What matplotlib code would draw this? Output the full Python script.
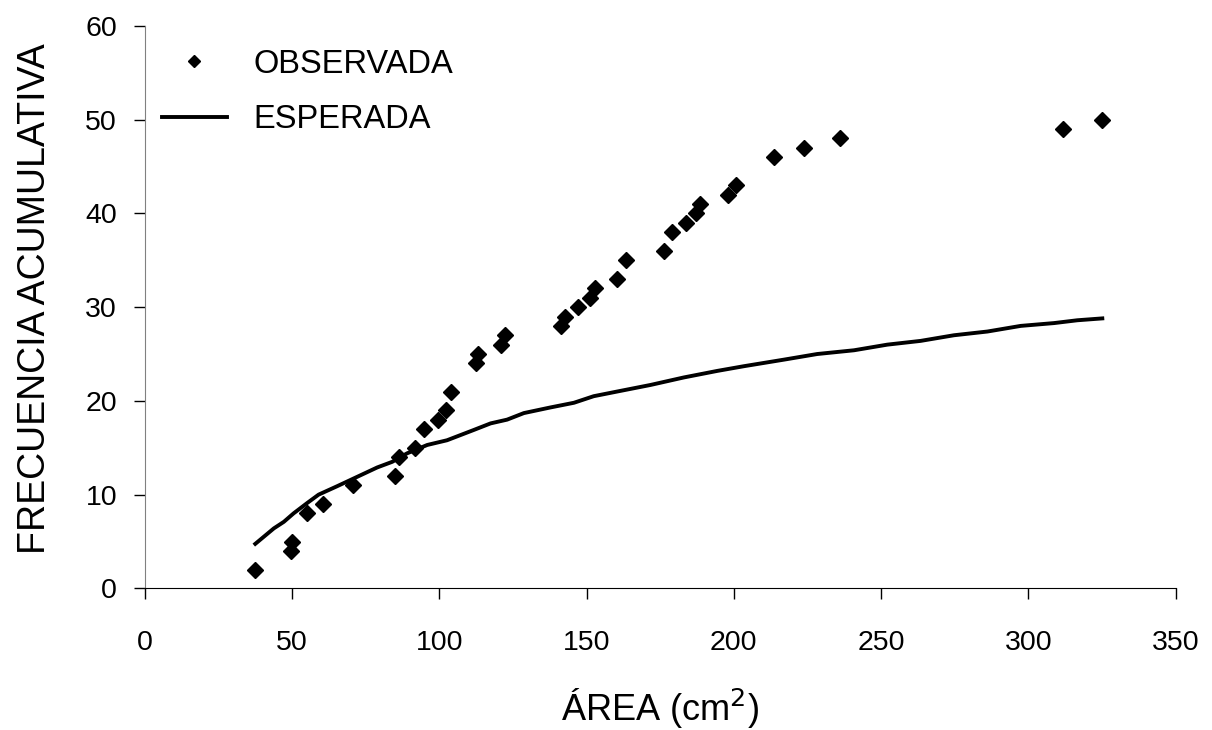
import matplotlib
matplotlib.use("Agg")
import matplotlib.pyplot as plt
from matplotlib.lines import Line2D

plt.rcParams["font.family"] = ["Liberation Sans", "DejaVu Sans"]

# observed cumulative frequency
obs_area = [37.5, 49.7, 50.0, 55.1, 60.5, 70.7, 85.1, 86.4, 91.9, 94.7, 99.5,
            102.3, 104.1, 112.3, 113.2, 121.1, 122.4, 141.4, 142.8, 147.0, 151.1,
            153.0, 160.4, 163.3, 176.3, 178.9, 183.6, 187.2, 188.5, 198.0, 200.6,
            213.6, 223.9, 236.1, 311.6, 325.1]
obs_freq = [2, 4, 5, 8, 9, 11, 12, 14, 15, 17, 18, 19, 21, 24, 25, 26, 27, 28,
            29, 30, 31, 32, 33, 35, 36, 38, 39, 40, 41, 42, 43, 46, 47, 48, 49, 50]

# expected cumulative frequency
exp_area = [37.5, 43.8, 47.2, 50.5, 55.1, 59.0, 65.3, 72.1, 78.9, 84.0, 89.0,
            95.9, 102.6, 111.7, 117.4, 123.0, 128.7, 137.7, 145.7, 152.4, 160.4,
            171.7, 183.0, 194.4, 203.4, 217.0, 228.3, 240.8, 252.1, 263.4, 274.7,
            286.1, 297.4, 308.7, 316.6, 325.1]
exp_freq = [4.75, 6.4, 7.1, 8.0, 9.1, 10.0, 10.9, 11.9, 12.9, 13.5, 14.4, 15.3,
            15.8, 16.9, 17.6, 18.0, 18.7, 19.3, 19.8, 20.5, 21.0, 21.7, 22.5,
            23.2, 23.7, 24.4, 25.0, 25.4, 26.0, 26.4, 27.0, 27.4, 28.0, 28.3,
            28.6, 28.8]

x_ticks = [0, 50, 100, 150, 200, 250, 300, 350]
y_ticks = [0, 10, 20, 30, 40, 50, 60]

fig = plt.figure(figsize=(12.12, 7.3), dpi=100)
ax = fig.add_axes([0.1195, 0.194, 0.8505, 0.7705])

ax.plot(obs_area, obs_freq, linestyle="none", marker="D", markersize=8,
        color="black")
ax.plot(exp_area, exp_freq, color="black", linewidth=2.8)

ax.set_xlim(0, 350)
ax.set_ylim(0, 60)
ax.set_xticks(x_ticks)
ax.set_yticks(y_ticks)
ax.tick_params(axis="both", labelsize=20.5, length=8, width=1, direction="out",
               pad=12)
ax.tick_params(axis="x", pad=22)

for s in ("top", "right"):
    ax.spines[s].set_visible(False)
ax.spines["left"].set_color("#808080")
ax.spines["bottom"].set_color("black")

ax.set_xlabel("ÁREA (cm$^2$)", fontsize=26, labelpad=22)
ax.set_ylabel("FRECUENCIA ACUMULATIVA", fontsize=27)
ax.yaxis.set_label_coords(-0.089, 0.515)

handles = [Line2D([], [], linestyle="none", marker="D", markersize=6, color="black"),
           Line2D([], [], color="black", linewidth=2.8)]
ax.legend(handles, ["OBSERVADA", "ESPERADA"], loc="upper left",
          bbox_to_anchor=(-0.012, 1.012), frameon=False, fontsize=23.5,
          handlelength=2.0, handletextpad=0.8, labelspacing=0.75)

fig.savefig("out.png", dpi=100)
